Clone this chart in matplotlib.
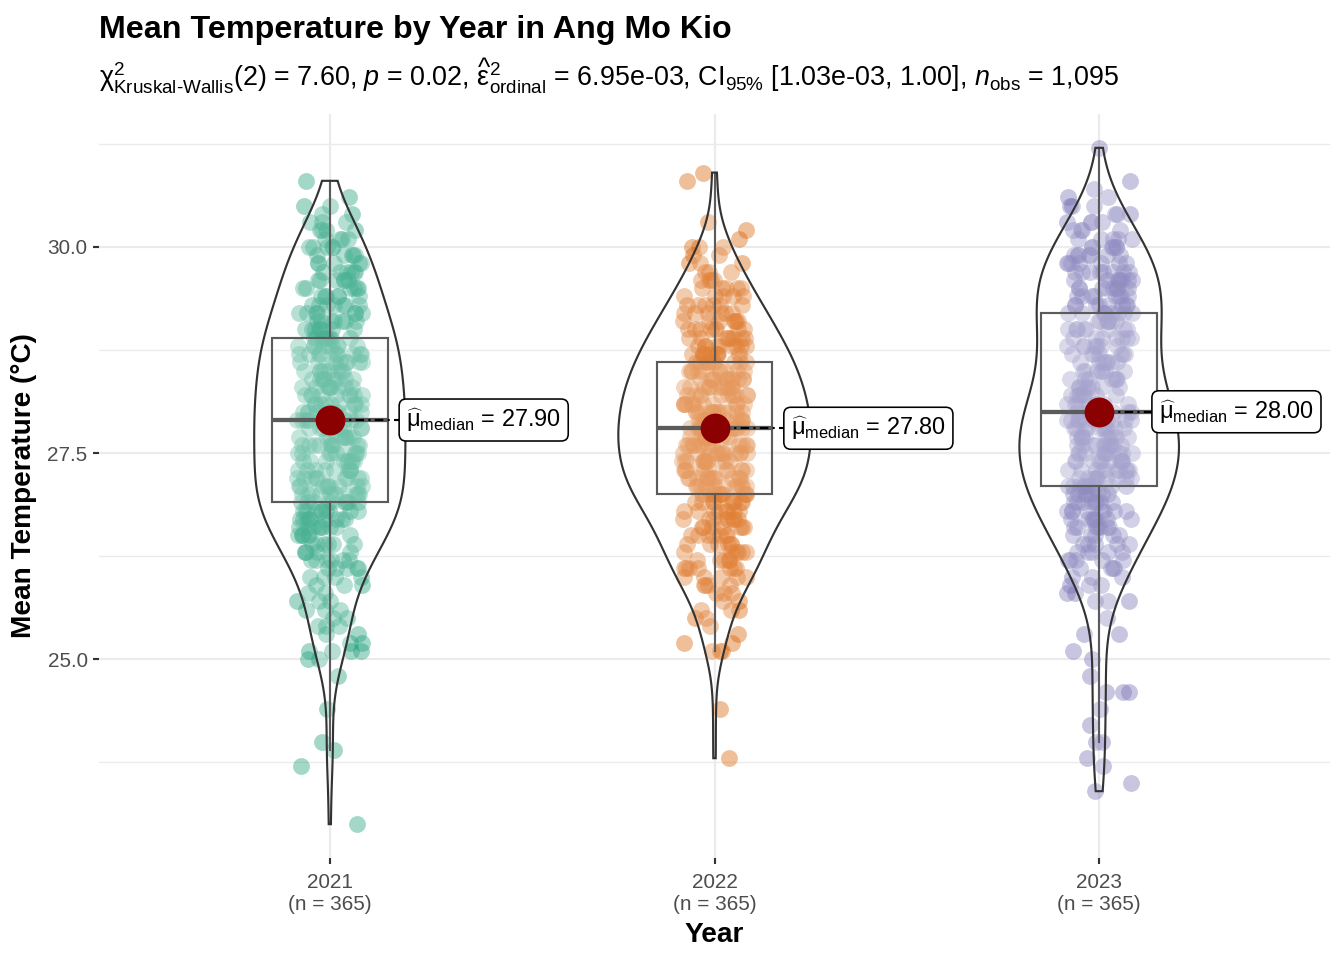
import numpy as np
import matplotlib
matplotlib.use("Agg")
import matplotlib.pyplot as plt
from matplotlib.patches import Rectangle, Polygon

# daily mean temperature as (value, count) per 0.1 degree
years = ["2021", "2022", "2023"]
colors = ["#1B9E77", "#D95F02", "#7570B3"]

temps_2021 = [23.0, 23.7, 23.9, 24.0, 24.4, 24.8,
              25.0, 25.1, 25.2, 25.3, 25.4,
              25.5, 25.6, 25.7, 25.8, 25.9, 26.0, 26.1, 26.2, 26.3, 26.4, 26.5, 26.6, 26.7, 26.8,
              26.9, 27.0, 27.1, 27.2, 27.3, 27.4, 27.5, 27.6, 27.7, 27.8,
              27.9,
              28.0, 28.1, 28.2, 28.3, 28.4, 28.5, 28.6, 28.7, 28.8,
              28.9,
              29.0, 29.1, 29.2, 29.3, 29.4, 29.5, 29.6, 29.7, 29.8, 29.9, 30.0, 30.1, 30.2, 30.3, 30.4, 30.5, 30.6,
              30.8]
counts_2021 = [1, 1, 1, 1, 1, 1,
               2, 4, 2, 2, 3,
               2, 3, 3, 2, 3, 4, 5, 6, 5, 6, 7, 8, 9, 9,
               9, 10, 9, 9, 9, 9, 9, 9, 9, 9,
               10,
               9, 9, 9, 9, 9, 8, 9, 9, 9,
               8,
               8, 7, 7, 7, 6, 6, 6, 6, 5, 5, 5, 4, 4, 3, 2, 2, 1,
               1]

temps_2022 = [23.8, 24.4,
              25.1, 25.2, 25.3, 25.4, 25.5, 25.6, 25.7, 25.8, 25.9,
              26.0, 26.1, 26.2, 26.3, 26.4, 26.5, 26.6, 26.7, 26.8, 26.9,
              27.0, 27.1, 27.2, 27.3, 27.4, 27.5, 27.6, 27.7,
              27.8,
              27.9, 28.0, 28.1, 28.2, 28.3, 28.4, 28.5,
              28.6,
              28.7, 28.8, 28.9, 29.0, 29.1, 29.2, 29.3, 29.4, 29.5, 29.6, 29.7, 29.8, 29.9, 30.0, 30.1, 30.2, 30.3,
              30.8, 30.9]
counts_2022 = [1, 1,
               3, 2, 1, 1, 2, 3, 2, 3, 4,
               5, 7, 5, 6, 6, 7, 7, 8, 8, 9,
               11, 11, 11, 11, 12, 12, 12, 11,
               12,
               12, 12, 11, 11, 11, 11, 10,
               10,
               9, 9, 8, 8, 7, 6, 6, 5, 5, 4, 3, 3, 2, 3, 1, 1, 1,
               1, 1]

temps_2023 = [23.4, 23.5, 23.7, 23.8, 24.0, 24.2, 24.4, 24.6, 24.8, 25.0, 25.1, 25.3, 25.5,
              25.7, 25.8, 25.9, 26.0, 26.1, 26.2, 26.3, 26.4, 26.5, 26.6, 26.7, 26.8, 26.9, 27.0,
              27.1, 27.2, 27.3, 27.4, 27.5, 27.6, 27.7, 27.8, 27.9,
              28.0,
              28.1, 28.2, 28.3, 28.4, 28.5, 28.6, 28.7, 28.8, 28.9, 29.0, 29.1,
              29.2,
              29.3, 29.4, 29.5, 29.6, 29.7, 29.8, 29.9, 30.0, 30.1, 30.2, 30.3, 30.4, 30.5, 30.6, 30.7, 30.8,
              31.2]
counts_2023 = [1, 1, 1, 1, 2, 1, 1, 3, 1, 1, 1, 2, 1,
               3, 2, 3, 3, 4, 5, 5, 5, 5, 7, 8, 8, 8, 8,
               10, 10, 10, 10, 10, 10, 10, 10, 11,
               10,
               8, 8, 8, 7, 7, 7, 7, 7, 7, 8, 7,
               8,
               8, 8, 8, 8, 8, 7, 7, 6, 5, 4, 4, 3, 3, 2, 1, 1,
               1]

title = "Mean Temperature by Year in Ang Mo Kio"
subtitle = (r"$\mathrm{\chi}^{2}_{\text{Kruskal-Wallis}}$(2) = 7.60, $\mathit{p}$ = 0.02, "
            r"$\widehat{\mathrm{\varepsilon}}^{2}_{\mathrm{ordinal}}$ = 6.95e-03, "
            r"CI$_{95\%}$ [1.03e-03, 1.00], $\mathit{n}_{\mathrm{obs}}$ = 1,095")

plt.rcParams["font.family"] = ["Liberation Sans", "DejaVu Sans"]
plt.rcParams["mathtext.fontset"] = "custom"
plt.rcParams["mathtext.rm"] = "Liberation Sans"
plt.rcParams["mathtext.it"] = "Liberation Sans:italic"
plt.rcParams["mathtext.bf"] = "Liberation Sans:bold"

groups = [np.repeat(temps_2021, counts_2021),
          np.repeat(temps_2022, counts_2022),
          np.repeat(temps_2023, counts_2023)]


def nrd0(v):
    q1, q3 = np.percentile(v, [25, 75])
    return 0.9 * min(np.std(v, ddof=1), (q3 - q1) / 1.34) * len(v) ** -0.2


def density(v, grid):
    bw = nrd0(v)
    z = (grid[:, None] - v[None, :]) / bw
    return np.exp(-0.5 * z ** 2).sum(axis=1) / (len(v) * bw * np.sqrt(2 * np.pi))


grids = [np.linspace(v.min(), v.max(), 512) for v in groups]
dens = [density(v, g) for v, g in zip(groups, grids)]
dmax = max(d.max() for d in dens)

fig = plt.figure(figsize=(7, 5), dpi=192)
ax = fig.add_axes([99 / 1344, 102 / 960, 1231 / 1344, 744 / 960])

labels = []
for i, v in enumerate(groups):
    pos = i + 1
    n = len(v)
    k = np.arange(n) + 1 + 400 * i
    # deterministic hash jitter (horizontal position only)
    jit = ((np.sin(k * 12.9898) * 43758.5453) % 1 - 0.5) * 0.17
    ax.scatter(pos + jit, v, s=40, color=colors[i], alpha=0.4, linewidths=0, zorder=2)

    # boxplot
    q1, med, q3 = np.percentile(v, [25, 50, 75])
    iqr = q3 - q1
    lo = v[v >= q1 - 1.5 * iqr - 1e-9].min()
    hi = v[v <= q3 + 1.5 * iqr + 1e-9].max()
    ax.add_patch(Rectangle((pos - 0.15, q1), 0.3, q3 - q1, facecolor=(1, 1, 1, 0.2),
                           edgecolor="#333333", lw=0.8, zorder=3))
    ax.plot([pos - 0.15, pos + 0.15], [med, med], color="#333333", lw=1.6, zorder=3,
            solid_capstyle="butt")
    ax.plot([pos, pos], [q3, hi], color="#333333", lw=0.8, zorder=3)
    ax.plot([pos, pos], [lo, q1], color="#333333", lw=0.8, zorder=3)

    # violin
    hw = 0.25 * dens[i] / dmax
    xs = np.concatenate([pos - hw, (pos + hw)[::-1]])
    ys = np.concatenate([grids[i], grids[i][::-1]])
    ax.add_patch(Polygon(np.column_stack([xs, ys]), closed=True, facecolor=(1, 1, 1, 0.2),
                         edgecolor="#333333", lw=0.8, zorder=4))

    # median point + label
    ax.plot([pos, pos + 0.4], [med, med], color="black", lw=0.8,
            linestyle=(0, (1, 2, 4, 2)), zorder=5)
    ax.scatter([pos], [med], s=125, color="#8B0000", linewidths=0, zorder=6)
    t = ax.text(pos + 0.4, med, r"$\widehat{\mathrm{\mu}}_{\mathrm{median}}$ = %.2f" % med,
                ha="center", va="center", fontsize=8.8, zorder=7,
                bbox=dict(boxstyle="round,pad=0.3,rounding_size=0.3", facecolor="white",
                          edgecolor="black", lw=0.6))
    labels.append((t, pos + 0.4, med))

lo_all = min(v.min() for v in groups)
hi_all = max(v.max() for v in groups)
span = hi_all - lo_all
ax.set_ylim(lo_all - 0.05 * span, hi_all + 0.05 * span)
ax.set_xlim(0.4, 3.6)

ax.set_yticks([25.0, 27.5, 30.0])
ax.set_yticklabels(["25.0", "27.5", "30.0"])
ax.set_yticks([23.75, 26.25, 28.75, 31.25], minor=True)
ax.set_xticks([1, 2, 3])
ax.set_xticklabels([f"{y}\n(n = {len(v)})" for y, v in zip(years, groups)], linespacing=1.2)

ax.grid(which="major", color="#EBEBEB", lw=0.8, zorder=0)
ax.grid(which="minor", axis="y", color="#EBEBEB", lw=0.5, zorder=0)
ax.set_axisbelow(True)
for s in ax.spines.values():
    s.set_visible(False)
ax.tick_params(which="major", length=2.3, width=0.8, color="#333333",
               labelcolor="#4D4D4D", labelsize=7.8)
ax.tick_params(axis="x", which="major", pad=3.5)
ax.tick_params(axis="y", which="major", pad=2)
ax.tick_params(which="minor", length=0)

ax.set_xlabel("Year", fontsize=10.5, fontweight="bold", labelpad=3)
ax.set_ylabel("Mean Temperature (°C)", fontsize=10.5, fontweight="bold", labelpad=4)

fig.text(99 / 1344, 1 - 38 / 960, title, fontsize=12.1, fontweight="bold", va="baseline")
fig.text(99 / 1344, 1 - 87 / 960, subtitle, fontsize=10.1, va="baseline")

# keep labels inside the panel, like ggrepel does
fig.canvas.draw()
renderer = fig.canvas.get_renderer()
ax_right = ax.get_window_extent(renderer).x1 - 9
for t, x, y in labels:
    bb = t.get_bbox_patch().get_window_extent(renderer)
    over = bb.x1 - ax_right
    if over > 0:
        px = ax.transData.transform((x, y))
        nx = ax.transData.inverted().transform((px[0] - over, px[1]))[0]
        t.set_position((nx, y))

fig.savefig("out.png", dpi=192)
